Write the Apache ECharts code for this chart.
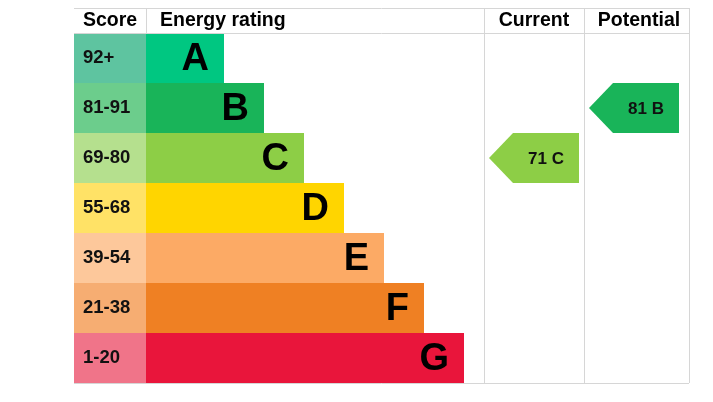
<!DOCTYPE html>
<html>
<head>
<meta charset="utf-8">
<script src="https://cdn.jsdelivr.net/npm/echarts/dist/echarts.min.js"></script>
<style>
html, body { margin: 0; padding: 0; background: #fff; }
#mainchart { width: 713px; height: 402px; }
</style>
</head>
<body>
<div id="mainchart"></div>
<script>
var ratings = ['A', 'B', 'C', 'D', 'E', 'F', 'G'];
var scoreBands = ['92+', '81-91', '69-80', '55-68', '39-54', '21-38', '1-20'];
var barLengths = [78, 118, 158, 198, 238, 278, 318];
var barColors = ['#00c781', '#19b459', '#8dce46', '#ffd500', '#fcaa65', '#ef8023', '#e9153b'];
var bandColors = ['#5ec4a0', '#6ccd8c', '#b5e08e', '#ffe266', '#fdc89b', '#f6ad72', '#f07489'];
var headers = ['Score', 'Energy rating', 'Current', 'Potential'];
var currentRating = [71, 'C'];
var potentialRating = [81, 'B'];

var FONT = '"Liberation Sans", Arial, sans-serif';
var LINE = '#d6d6d6';

function catAxis(i) {
	return { type: 'category', gridIndex: i, data: ratings, inverse: true, show: false };
}
function valAxis(i, max) {
	return { type: 'value', gridIndex: i, min: 0, max: max, show: false };
}

// arrow pointing left, sits inside its column
function drawArrow(params, api) {
	var left = api.coord([0, api.value(1)]);
	var h = api.size([0, 1])[1];
	var x0 = left[0] + 5, x1 = x0 + 90, yc = left[1];
	var idx = api.value(1);
	return {
		type: 'group',
		children: [{
			type: 'polygon',
			shape: { points: [[x0, yc], [x0 + 24, yc - h / 2], [x1, yc - h / 2], [x1, yc + h / 2], [x0 + 24, yc + h / 2]] },
			style: { fill: barColors[idx] }
		}, {
			type: 'text',
			style: {
				text: api.value(2) + ' ' + ratings[idx],
				x: (x0 + 24 + x1) / 2, y: yc + 1,
				align: 'center', verticalAlign: 'middle',
				textAlign: 'center', textVerticalAlign: 'middle',
				font: 'bold 17px ' + FONT,
				fill: '#111'
			}
		}]
	};
}

function hline(y) {
	return { type: 'line', shape: { x1: 74, y1: y, x2: 689, y2: y }, style: { stroke: LINE, lineWidth: 1 }, z: 10 };
}
function vline(x, y1, y2) {
	return { type: 'line', shape: { x1: x, y1: y1, x2: x, y2: y2 }, style: { stroke: LINE, lineWidth: 1 }, z: 10 };
}
function header(txt, x, align) {
	return { type: 'text', z: 10, style: { text: txt, x: x, y: 21, align: align, verticalAlign: 'middle', textAlign: align, textVerticalAlign: 'middle', font: 'bold 19.5px ' + FONT, fill: '#000' } };
}

var chart = echarts.init(document.getElementById('mainchart'));
var option = {
	animation: false,
	grid: [
		{ left: 74, top: 33, width: 72, height: 350 },
		{ left: 146, top: 33, width: 338, height: 350 },
		{ left: 484, top: 33, width: 100, height: 350 },
		{ left: 584, top: 33, width: 105, height: 350 }
	],
	xAxis: [valAxis(0, 1), valAxis(1, 338), valAxis(2, 1), valAxis(3, 1)],
	yAxis: [catAxis(0), catAxis(1), catAxis(2), catAxis(3)],
	graphic: [
		hline(8.5), hline(33.5), hline(383.5),
		vline(146.5, 8, 33), vline(484.5, 8, 383), vline(584.5, 8, 383), vline(689.5, 8, 383),
		header(headers[0], 110, 'center'),
		header(headers[1], 160, 'left'),
		header(headers[2], 534, 'center'),
		header(headers[3], 639, 'center')
	],
	series: [{
		type: 'bar',
		xAxisIndex: 0, yAxisIndex: 0,
		barWidth: '100%',
		data: bandColors.map(function (c) { return { value: 1, itemStyle: { color: c } }; }),
		label: {
			show: true, position: 'insideLeft', distance: 9,
			formatter: function (p) { return scoreBands[p.dataIndex]; },
			fontFamily: FONT, fontWeight: 'bold', fontSize: 18.5, color: '#111'
		}
	}, {
		type: 'bar',
		xAxisIndex: 1, yAxisIndex: 1,
		barWidth: '100%',
		data: barLengths.map(function (v, i) { return { value: v, itemStyle: { color: barColors[i] } }; }),
		label: {
			show: true, position: 'insideRight', distance: 15, offset: [0, 2],
			formatter: function (p) { return ratings[p.dataIndex]; },
			fontFamily: FONT, fontWeight: 'bold', fontSize: 38, color: '#000'
		}
	}, {
		type: 'custom',
		xAxisIndex: 2, yAxisIndex: 2,
		renderItem: drawArrow,
		data: [[0, currentRating[1], currentRating[0]]]
	}, {
		type: 'custom',
		xAxisIndex: 3, yAxisIndex: 3,
		renderItem: drawArrow,
		data: [[0, potentialRating[1], potentialRating[0]]]
	}]
};
chart.setOption(option);
</script>
</body>
</html>
